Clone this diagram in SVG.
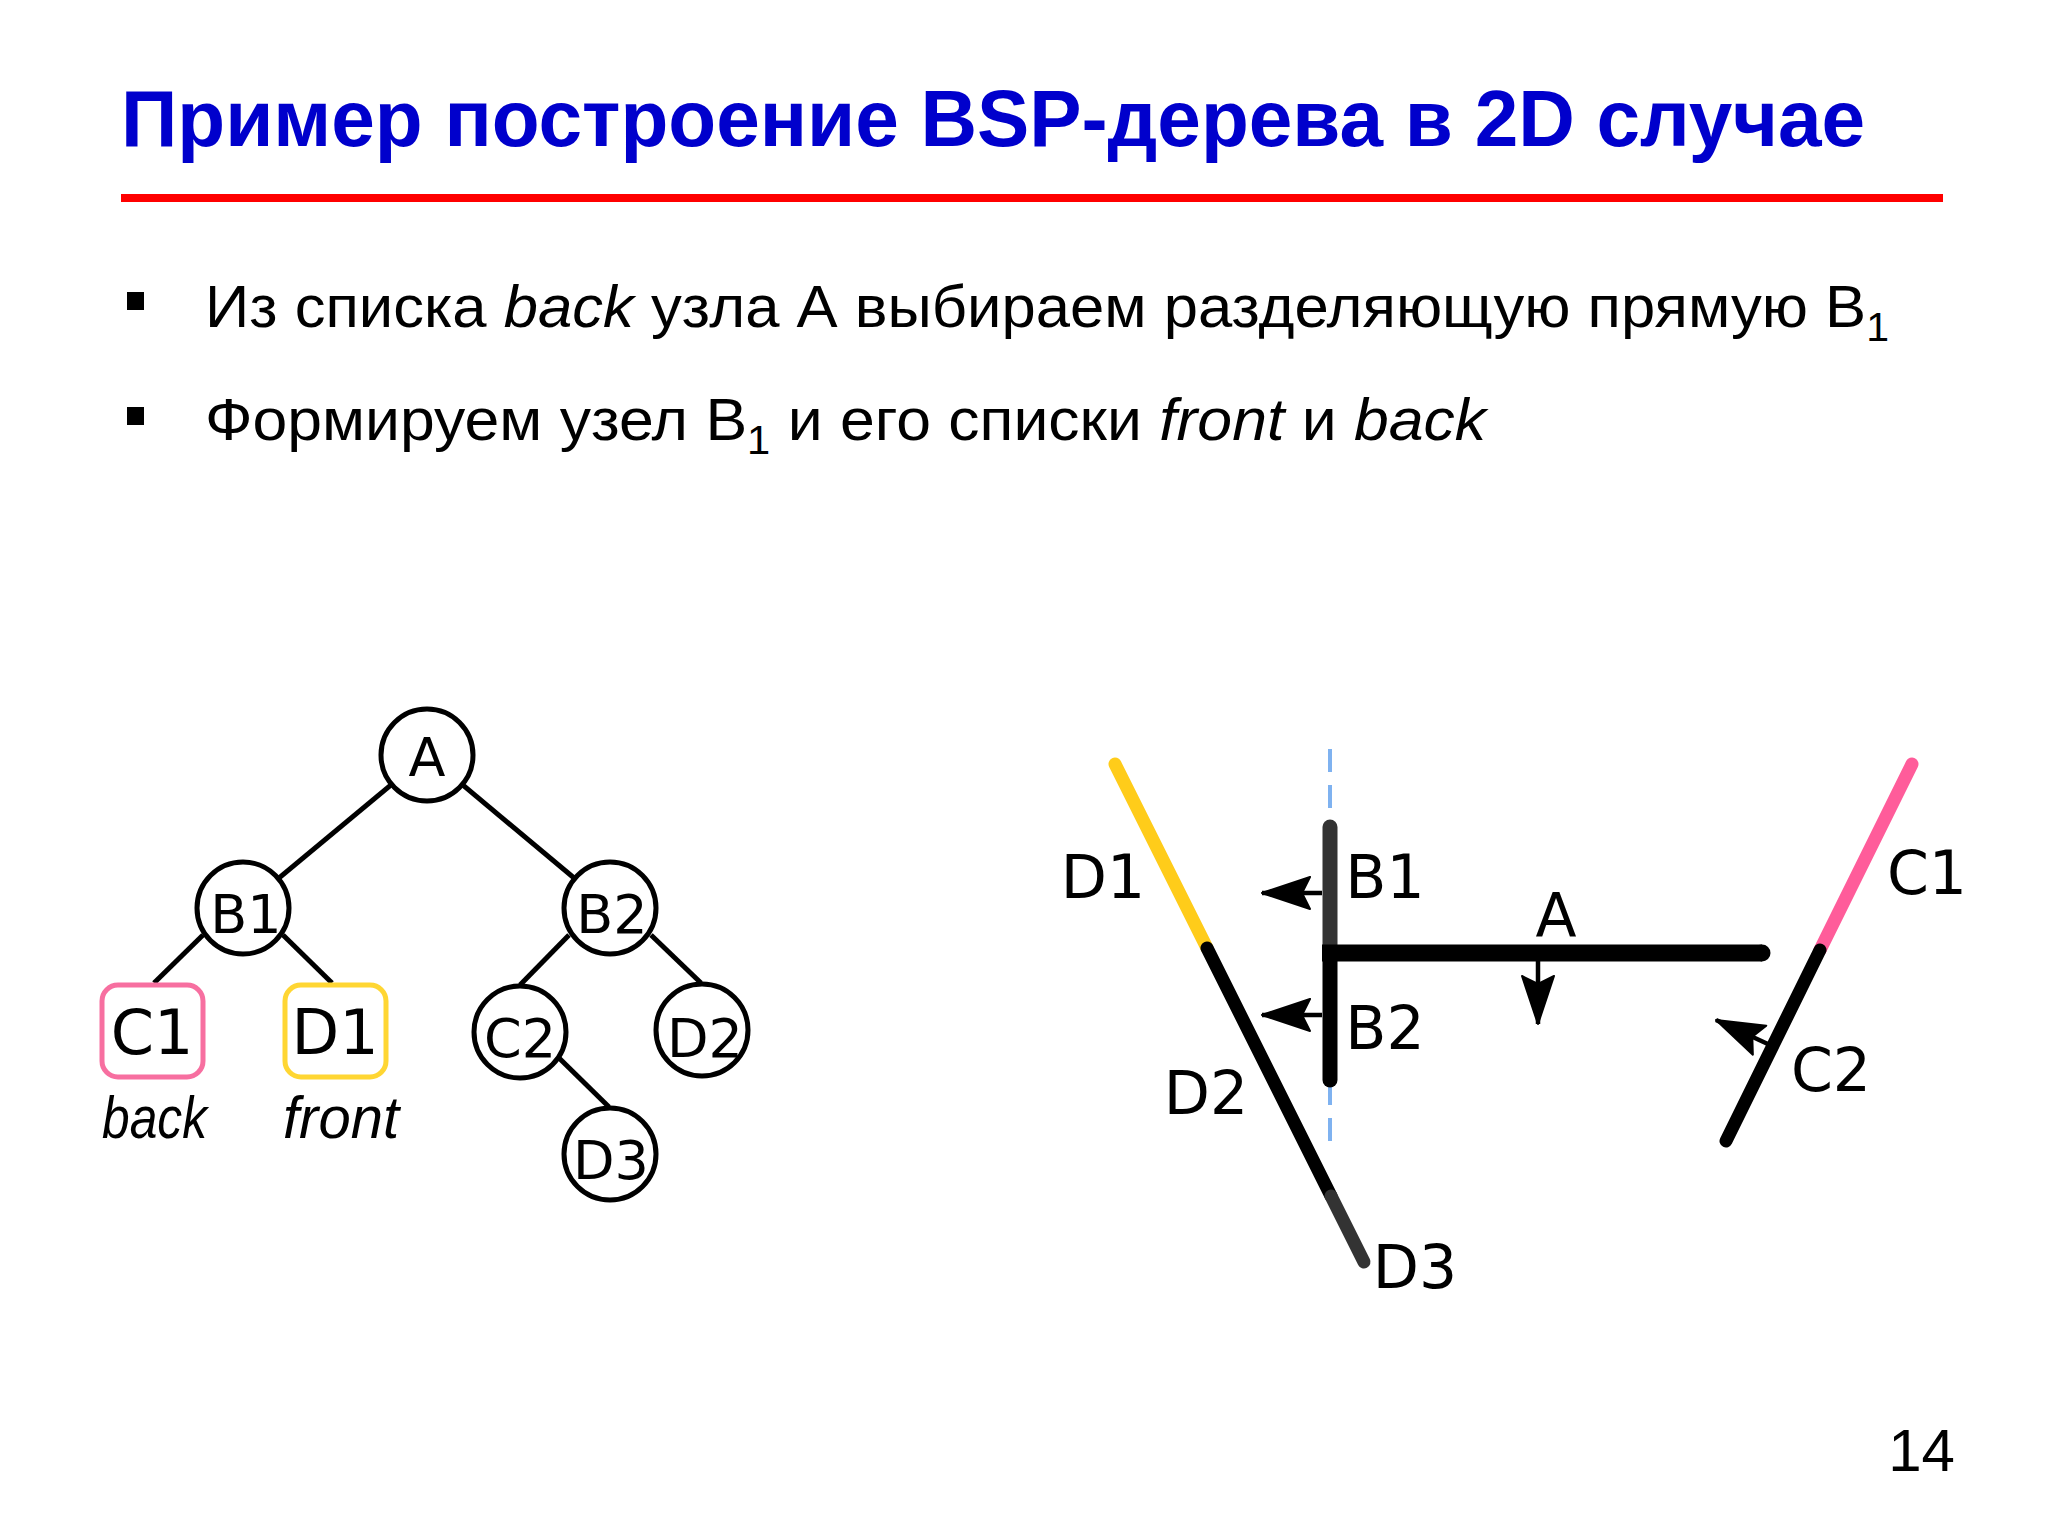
<svg xmlns="http://www.w3.org/2000/svg" width="2048" height="1536" viewBox="0 0 2048 1536">
<style>
.title{font-family:"Liberation Sans","Open Sans",sans-serif;font-weight:bold;font-size:80px;fill:#0000CC}
.body{font-family:"Liberation Sans","Open Sans",sans-serif;font-size:60px;fill:#000}
.it{font-style:italic}
.sub{font-size:40px}
.lbl{font-family:"DejaVu Sans",sans-serif;font-size:54px;fill:#000;text-anchor:middle}
.big{font-size:62px}
.dlbl{font-family:"DejaVu Sans",sans-serif;font-size:60px;fill:#000;text-anchor:middle}
.node{fill:#fff;stroke:#000;stroke-width:5}
.edge{stroke:#000;stroke-width:5;fill:none}
.seg{fill:none;stroke-width:13;stroke-linecap:round}
.shaft{stroke:#000;stroke-width:4.5;fill:none}
</style>
<defs>
<marker id="ah" markerUnits="userSpaceOnUse" orient="auto" markerWidth="60" markerHeight="40" refX="0" refY="0" viewBox="-50 -20 60 40" overflow="visible">
<path d="M0,0 L-48,-16 L-40,0 L-48,16 Z" fill="#000" stroke="#000" stroke-width="2" stroke-linejoin="round"/>
</marker>
</defs>
<rect width="2048" height="1536" fill="#fff"/>

<text class="title" x="121" y="146" textLength="1744" lengthAdjust="spacingAndGlyphs">Пример построение BSP-дерева в 2D случае</text>
<rect x="121" y="194" width="1822" height="8" fill="#FF0000"/>

<rect x="127" y="292" width="17" height="18" fill="#000"/>
<text class="body" x="205" y="327" textLength="1684" lengthAdjust="spacingAndGlyphs">Из списка <tspan class="it">back</tspan> узла А выбираем разделяющую прямую B<tspan class="sub" dy="14">1</tspan></text>
<rect x="127" y="407" width="17" height="18" fill="#000"/>
<text class="body" x="205" y="440" textLength="1281" lengthAdjust="spacingAndGlyphs">Формируем узел B<tspan class="sub" dy="14">1</tspan><tspan dy="-14"> и его списки </tspan><tspan class="it">front</tspan> и <tspan class="it">back</tspan></text>

<!-- tree connectors -->
<g id="tree-edges">
<line class="edge" x1="427" y1="755" x2="243" y2="908"/>
<line class="edge" x1="427" y1="755" x2="610" y2="908"/>
<line class="edge" x1="203" y1="935" x2="154" y2="983"/>
<line class="edge" x1="283" y1="935" x2="332" y2="983"/>
<line class="edge" x1="569" y1="935" x2="520" y2="985"/>
<line class="edge" x1="651" y1="935" x2="701" y2="983"/>
<line class="edge" x1="558" y1="1057" x2="609" y2="1107"/>
</g>

<g id="node-A"><circle class="node" cx="427" cy="755" r="46"/><text class="lbl" x="427" y="776">A</text></g>
<g id="node-B1"><circle class="node" cx="243" cy="908" r="46"/><text class="lbl" x="246" y="933">B1</text></g>
<g id="node-B2"><circle class="node" cx="610" cy="908" r="46"/><text class="lbl" x="612" y="933">B2</text></g>
<g id="node-C1"><rect x="102" y="985" width="101" height="92" rx="16" fill="#fff" stroke="#F76FA0" stroke-width="5"/><text class="lbl big" x="152" y="1054">C1</text></g>
<g id="node-D1"><rect x="285" y="985" width="101" height="92" rx="16" fill="#fff" stroke="#FFD633" stroke-width="5"/><text class="lbl big" x="335" y="1054">D1</text></g>
<g id="node-C2"><circle class="node" cx="520" cy="1032" r="46"/><text class="lbl" x="520" y="1057">C2</text></g>
<g id="node-D2"><circle class="node" cx="702" cy="1030" r="46"/><text class="lbl" x="705" y="1057">D2</text></g>
<g id="node-D3"><circle class="node" cx="610" cy="1154" r="46"/><text class="lbl" x="611" y="1179">D3</text></g>
<text class="body it" x="102" y="1138" font-size="52" textLength="105" lengthAdjust="spacingAndGlyphs">back</text>
<text class="body it" x="283" y="1138" font-size="52" textLength="116" lengthAdjust="spacingAndGlyphs">front</text>

<!-- right geometry diagram -->
<g id="geometry">
<line x1="1330" y1="749" x2="1330" y2="830" stroke="#7FB2F0" stroke-width="4" stroke-dasharray="23 13"/>
<line x1="1330" y1="1141" x2="1330" y2="1078" stroke="#7FB2F0" stroke-width="4" stroke-dasharray="23 13"/>
<line class="seg" x1="1115" y1="764" x2="1207" y2="948" stroke="#FFCC1A"/>
<line class="seg" x1="1207" y1="948" x2="1331" y2="1196" stroke="#000" stroke-linecap="butt"/>
<line class="seg" x1="1331" y1="1196" x2="1364" y2="1262" stroke="#333"/>
<line class="seg" x1="1912" y1="764" x2="1820" y2="950" stroke="#FF5C9A"/>
<line class="seg" x1="1820" y1="950" x2="1726" y2="1141" stroke="#000"/>
<line x1="1330" y1="827" x2="1330" y2="953" stroke="#333" stroke-width="15" stroke-linecap="round"/>
<line x1="1330" y1="953" x2="1330" y2="1080" stroke="#000" stroke-width="15" stroke-linecap="round"/>
<line x1="1322" y1="953" x2="1762" y2="953" stroke="#000" stroke-width="17"/>
<circle cx="1762" cy="953" r="8.5" fill="#000"/>
<line class="shaft" x1="1322" y1="893" x2="1262" y2="893" marker-end="url(#ah)"/>
<line class="shaft" x1="1322" y1="1015" x2="1262" y2="1015" marker-end="url(#ah)"/>
<line class="shaft" x1="1538" y1="961" x2="1538" y2="1024" marker-end="url(#ah)"/>
<line class="shaft" x1="1770" y1="1045" x2="1716" y2="1020" marker-end="url(#ah)"/>
<text class="dlbl" x="1103" y="898">D1</text>
<text class="dlbl" x="1385" y="898">B1</text>
<text class="dlbl" x="1385" y="1049">B2</text>
<text class="dlbl" x="1556" y="936">A</text>
<text class="dlbl" x="1927" y="894">C1</text>
<text class="dlbl" x="1831" y="1091">C2</text>
<text class="dlbl" x="1206" y="1114">D2</text>
<text class="dlbl" x="1415" y="1288">D3</text>
</g>

<text class="body" x="1955" y="1471" font-size="46" text-anchor="end">14</text>
</svg>
